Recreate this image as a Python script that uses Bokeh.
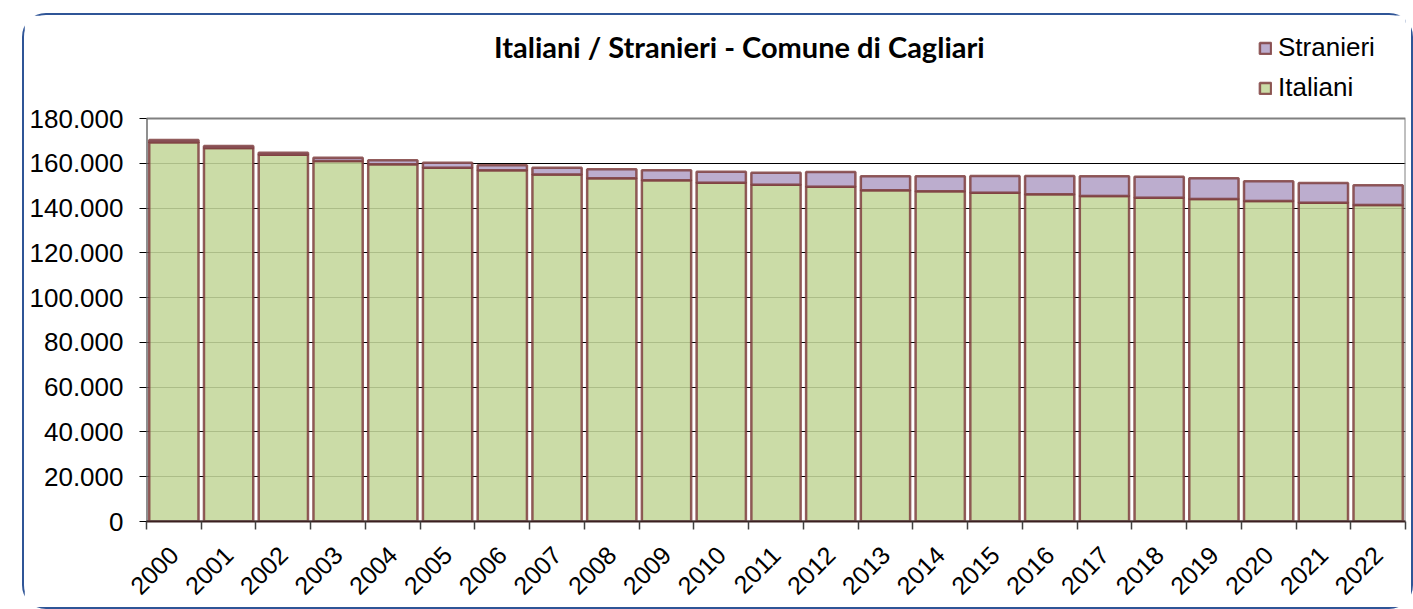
import math
from bokeh.plotting import figure
from bokeh.models import (ColumnDataSource, FixedTicker, Legend, LegendItem, Label, Range1d)
from bokeh.embed import file_html
from bokeh.resources import INLINE

years = [str(y) for y in range(2000, 2023)]
italiani = [169370, 166820, 163830, 161020, 159540, 158030, 156870, 155000, 153300, 152400,
            151330, 150440, 149540, 147940, 147490, 146870, 146150, 145390, 144630, 144050,
            143160, 142400, 141370]
stranieri = [1020, 890, 890, 1470, 1790, 2220, 2220, 3020, 4010, 4460,
             4910, 5350, 6560, 6240, 6690, 7450, 8170, 8790, 9370, 9240,
             8790, 8790, 8800]
y_ticks = [0, 20000, 40000, 60000, 80000, 100000, 120000, 140000, 160000, 180000]
y_tick_labels = ["0", "20.000", "40.000", "60.000", "80.000", "100.000", "120.000",
                 "140.000", "160.000", "180.000"]
y_max = y_ticks[-1]

n = len(years)
xc = [i + 0.5 for i in range(n)]
src = ColumnDataSource(dict(x=xc, Italiani=italiani, Stranieri=stranieri))

W, H = 1391, 596
top_room = y_max * (118 - 15) / 403.0   # space above the plot area for title / legend
p = figure(width=W, height=H, output_backend="svg", toolbar_location=None,
           x_range=Range1d(0, n), y_range=Range1d(0, y_max + top_room),
           min_border_left=122, min_border_right=10, min_border_top=0, min_border_bottom=90)
p.styles = {"border": "2px solid #2F5597", "border-radius": "24px", "box-sizing": "border-box"}
p.margin = (13, 0, 0, 22)
p.background_fill_color = "white"
p.border_fill_color = "white"
p.outline_line_color = None

rs = p.vbar_stack(["Italiani", "Stranieri"], x="x", width=0.9, source=src,
                  fill_color=["#C4D79B", "#B3A2C7"], fill_alpha=0.88,
                  line_color="#7F3F3F", line_width=2.5, line_alpha=0.85)

# plot-area border (gray) and y axis line
p.quad(left=[0], right=[n], bottom=[0], top=[y_max], fill_color=None,
       line_color="#808080", line_width=2)
p.segment(x0=[0], y0=[0], x1=[0], y1=[y_max], line_color="#606060", line_width=2)

# axes
p.xaxis.ticker = FixedTicker(ticks=xc, minor_ticks=list(range(n + 1)))
p.xaxis.major_label_overrides = {x: y for x, y in zip(xc, years)}
p.xaxis.major_tick_out = 0
p.xaxis.major_tick_in = 0
p.xaxis.minor_tick_out = 8
p.xaxis.minor_tick_in = 0
p.xaxis.minor_tick_line_color = "#404040"
p.xaxis.minor_tick_line_width = 1.5
p.xaxis.axis_line_color = "#3a2020"
p.xaxis.axis_line_width = 2
p.xaxis.major_label_orientation = math.pi / 4
p.xaxis.major_label_text_font = "Liberation Sans"
p.xaxis.major_label_text_font_size = "25px"
p.xaxis.major_label_text_color = "black"
p.xaxis.major_label_standoff = 21

p.yaxis.ticker = FixedTicker(ticks=y_ticks)
p.yaxis.major_label_overrides = {t: l for t, l in zip(y_ticks, y_tick_labels)}
p.yaxis.minor_tick_line_color = None
p.yaxis.major_tick_out = 7
p.yaxis.major_tick_in = 0
p.yaxis.major_tick_line_color = "black"
p.yaxis.axis_line_color = None
p.yaxis.major_label_text_font = "Liberation Sans"
p.yaxis.major_label_text_font_size = "26px"
p.yaxis.major_label_text_color = "black"
p.yaxis.major_label_standoff = 16

p.xgrid.grid_line_color = None
p.ygrid.ticker = FixedTicker(ticks=y_ticks[:-1])
p.ygrid.grid_line_color = "black"
p.ygrid.grid_line_width = 1

# title
title = Label(x=10.83, y=y_max * (521 - 46) / 403.0,
              text="Italiani / Stranieri - Comune di Cagliari",
              text_font="Lato", text_font_style="bold", text_font_size="29px",
              text_align="center", text_baseline="middle", text_color="black")
p.add_layout(title)

legend = Legend(items=[LegendItem(label="Stranieri", renderers=[rs[1]]),
                       LegendItem(label="Italiani", renderers=[rs[0]])],
                location=(1112, 418))
legend.label_text_font = "Liberation Sans"
legend.label_text_font_size = "26px"
legend.label_text_color = "black"
legend.glyph_width = 14
legend.glyph_height = 14
legend.label_height = 24
legend.spacing = 9
legend.label_standoff = 6
legend.padding = 0
legend.margin = 0
legend.border_line_color = None
legend.background_fill_alpha = 0
p.add_layout(legend)

open("out.html", "w").write(file_html(p, INLINE))
